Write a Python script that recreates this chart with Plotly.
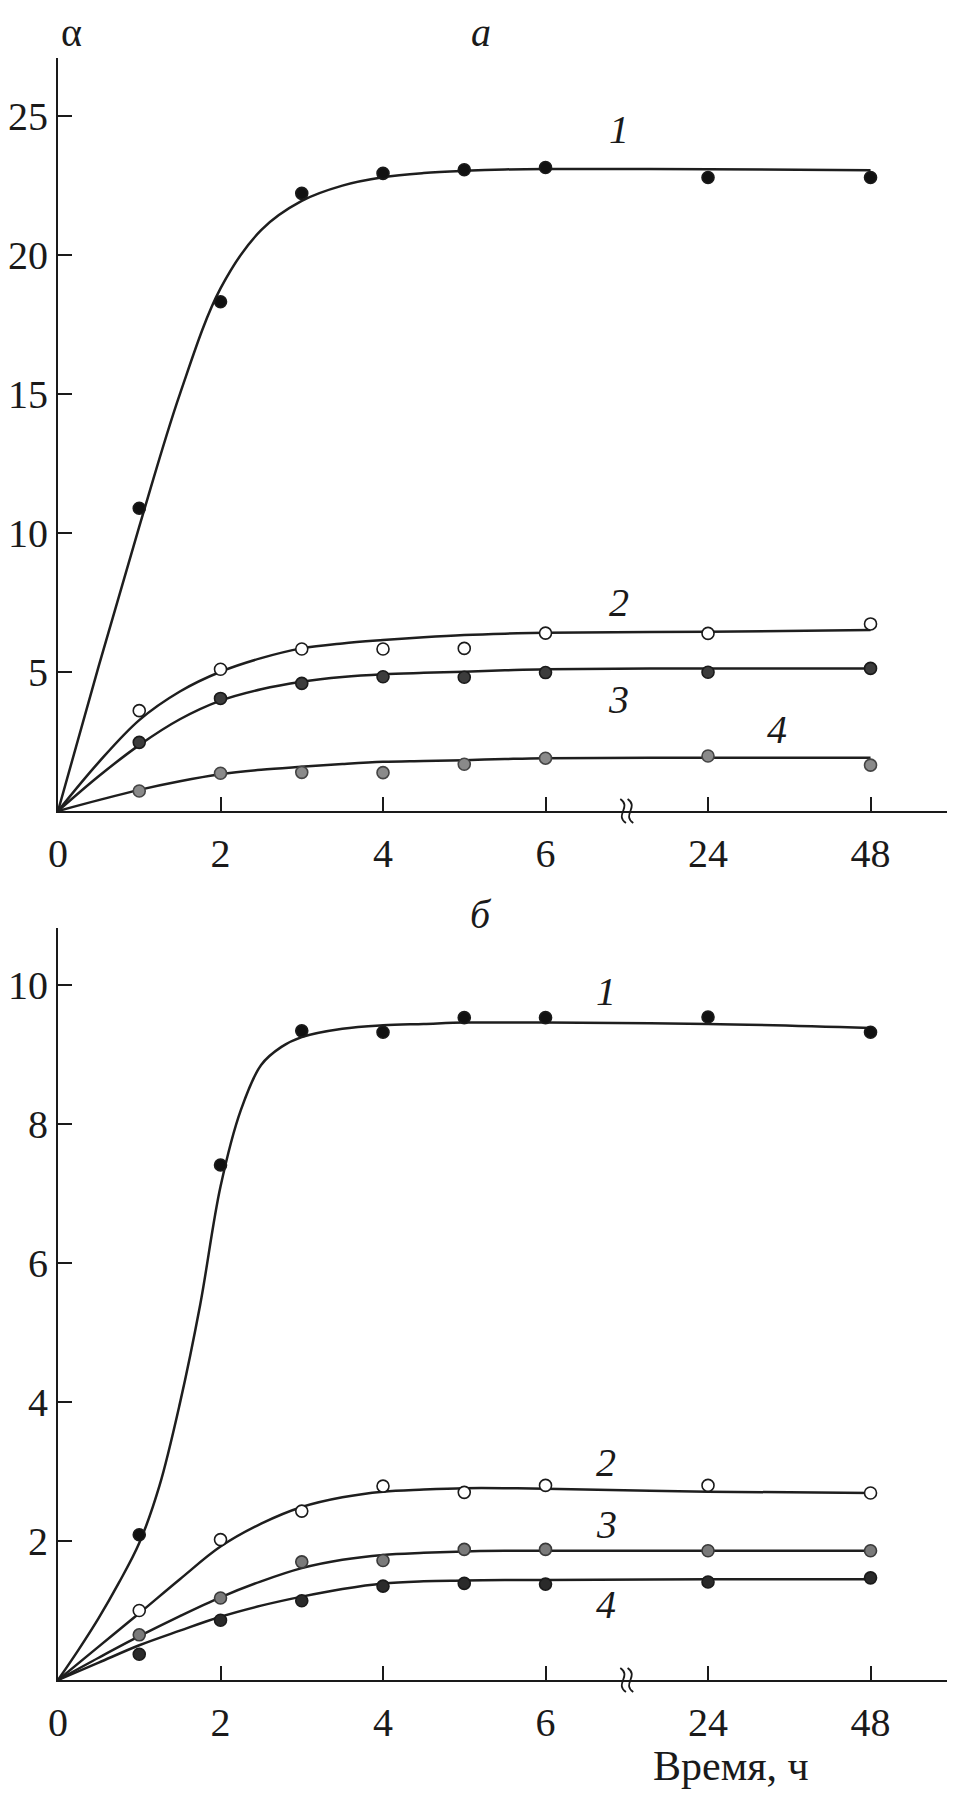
import plotly.graph_objects as go

# ---------------- data ----------------
tick_hours = [0, 2, 4, 6, 24, 48]
point_hours = [1, 2, 3, 4, 5, 6, 24, 48]
# top panel (a) measured points
a1 = [10.89, 18.32, 22.22, 22.94, 23.07, 23.15, 22.79, 22.79]
a2 = [3.61, 5.10, 5.83, 5.83, 5.85, 6.40, 6.39, 6.73]
a3 = [2.47, 4.05, 4.59, 4.83, 4.81, 4.98, 4.99, 5.13]
a4 = [0.72, 1.36, 1.39, 1.38, 1.68, 1.90, 1.98, 1.65]
# bottom panel (б) measured points
b1 = [2.09, 7.41, 9.34, 9.32, 9.53, 9.53, 9.54, 9.32]
b2 = [1.00, 2.02, 2.43, 2.79, 2.70, 2.80, 2.80, 2.69]
b3 = [0.65, 1.18, 1.70, 1.72, 1.88, 1.88, 1.86, 1.86]
b4 = [0.37, 0.86, 1.14, 1.35, 1.39, 1.38, 1.41, 1.47]

# fitted curves
curve_h = [0, 0.5, 1, 1.5, 2, 2.5, 3, 3.5, 4, 4.5, 5, 5.5, 6, 24, 48]
ca1 = [0, 5.2, 10.23, 15.0, 18.8, 20.9, 21.95, 22.5, 22.8, 22.95, 23.03, 23.08, 23.1, 23.09, 23.05]
ca2 = [0, 1.75, 3.27, 4.3, 5.01, 5.5, 5.85, 6.03, 6.15, 6.25, 6.33, 6.38, 6.41, 6.45, 6.51]
ca3 = [0, 1.25, 2.37, 3.3, 3.97, 4.38, 4.65, 4.82, 4.92, 4.97, 5.01, 5.06, 5.10, 5.13, 5.13]
ca4 = [0, 0.39, 0.76, 1.07, 1.32, 1.48, 1.59, 1.69, 1.77, 1.80, 1.83, 1.87, 1.90, 1.92, 1.92]
cb1_h = [0, 0.25, 0.5, 0.75, 1, 1.25, 1.5, 1.75, 2, 2.25, 2.5, 2.75, 3, 3.5, 4, 4.5, 5, 5.5, 6, 24, 48]
cb1 = [0, 0.43, 0.89, 1.4, 1.97, 2.8, 3.98, 5.4, 7.1, 8.2, 8.85, 9.11, 9.25, 9.37, 9.42, 9.44, 9.46, 9.46, 9.46, 9.44, 9.38]
cb2 = [0, 0.48, 0.96, 1.45, 1.92, 2.25, 2.49, 2.63, 2.71, 2.74, 2.76, 2.76, 2.75, 2.71, 2.69]
cb3 = [0, 0.32, 0.63, 0.92, 1.19, 1.42, 1.61, 1.73, 1.80, 1.83, 1.85, 1.86, 1.86, 1.86, 1.86]
cb4 = [0, 0.25, 0.50, 0.71, 0.91, 1.07, 1.20, 1.31, 1.39, 1.42, 1.43, 1.44, 1.44, 1.45, 1.45]

# broken axis: 24 h and 48 h placed after 6 h at equal tick spacing
BREAK_POS = {24: 8, 48: 10}
def pos(hs):
    return [BREAK_POS.get(h, h) for h in hs]

FONT = "Liberation Serif, Times New Roman, serif"
# page body has an 8px margin; the figure fills the rest of the 955x1795 window
OFF = 8
W, H = 955 - OFF, 1795 - OFF
def px(x):
    return (x - OFF) / W
def py(y):
    return 1 - (y - OFF) / H

LINE = "#1e1e1e"
fig = go.Figure()

def add_curve(hs, ys, xa, ya):
    fig.add_trace(go.Scatter(x=pos(hs), y=ys, mode="lines", xaxis=xa, yaxis=ya,
                             line=dict(color=LINE, width=2.5, shape="spline", smoothing=1.0),
                             hoverinfo="skip", showlegend=False))

def add_pts(ys, fill, xa, ya, edge="#1a1a1a"):
    fig.add_trace(go.Scatter(x=pos(point_hours), y=ys, mode="markers", xaxis=xa, yaxis=ya,
                             marker=dict(size=12, color=fill, line=dict(color=edge, width=1.6)),
                             showlegend=False))

# top panel
add_curve(curve_h, ca1, "x", "y")
add_curve(curve_h, ca2, "x", "y")
add_curve(curve_h, ca3, "x", "y")
add_curve(curve_h, ca4, "x", "y")
add_pts(a1, "#111111", "x", "y")
add_pts(a2, "#ffffff", "x", "y")
add_pts(a3, "#3c3c3c", "x", "y")
add_pts(a4, "#8a8a8a", "x", "y", edge="#444444")
# bottom panel
add_curve(cb1_h, cb1, "x2", "y2")
add_curve(curve_h, cb2, "x2", "y2")
add_curve(curve_h, cb3, "x2", "y2")
add_curve(curve_h, cb4, "x2", "y2")
add_pts(b1, "#111111", "x2", "y2")
add_pts(b2, "#ffffff", "x2", "y2")
add_pts(b3, "#7a7a7a", "x2", "y2", edge="#3a3a3a")
add_pts(b4, "#2a2a2a", "x2", "y2")

x_dom = [px(58), px(953)]
top_dom = [py(811), py(58)]
bot_dom = [py(1680), py(928)]

axis_common = dict(showline=True, linecolor="#1a1a1a", linewidth=2, ticks="inside",
                   ticklen=14, tickwidth=2, tickcolor="#1a1a1a", showgrid=False,
                   zeroline=False, automargin=False,
                   tickfont=dict(family=FONT, size=40, color="#1a1a1a"))

xaxis_common = dict(axis_common, range=[0, 11.015], tickvals=pos(tick_hours),
                    ticktext=[str(t) for t in tick_hours], ticklabelstandoff=6)

fig.update_layout(
    width=W, height=H, margin=dict(l=0, r=0, t=0, b=0, autoexpand=False),
    paper_bgcolor="white", plot_bgcolor="white",
    xaxis=dict(xaxis_common, domain=x_dom, anchor="y"),
    yaxis=dict(axis_common, domain=top_dom, anchor="x", range=[0, 27.09],
               tickvals=[5, 10, 15, 20, 25]),
    xaxis2=dict(xaxis_common, domain=x_dom, anchor="y2"),
    yaxis2=dict(axis_common, domain=bot_dom, anchor="x2", range=[0, 10.82],
                tickvals=[2, 4, 6, 8, 10]),
)

# axis-break marks on both x axes
def brk(xref, cy):
    h = 24 / H
    shapes = []
    for dx in (-0.045, 0.045):
        cx = 7 + dx
        p = (f"M {cx+0.035},{cy-h/2} C {cx-0.11},{cy-h/6} {cx+0.11},{cy+h/6} {cx-0.035},{cy+h/2}")
        shapes.append(dict(type="path", path=p, xref=xref, yref="paper",
                           line=dict(color="#1a1a1a", width=1.8)))
    return shapes

fig.update_layout(shapes=brk("x", top_dom[0]) + brk("x2", bot_dom[0]))

def ann(text, x, y, xref, yref, size=40, italic=False, yanchor="middle"):
    t = f"<i>{text}</i>" if italic else text
    fig.add_annotation(text=t, x=x, y=y, xref=xref, yref=yref, showarrow=False,
                       font=dict(family=FONT, size=size, color="#1a1a1a"),
                       xanchor="center", yanchor=yanchor)

# axis titles and panel labels
ann("α", px(72), py(33), "paper", "paper", size=40)
ann("а", px(481), 1.0, "paper", "paper", size=40, italic=True, yanchor="top")
ann("б", px(481), py(914), "paper", "paper", size=40, italic=True)
ann("Время, ч", px(731), py(1766), "paper", "paper", size=42)

# curve numbers
ann("1", 6.9, 24.5, "x", "y", italic=True)
ann("2", 6.9, 7.5, "x", "y", italic=True)
ann("3", 6.9, 4.0, "x", "y", italic=True)
ann("4", 8.85, 2.95, "x", "y", italic=True)
ann("1", 6.75, 9.9, "x2", "y2", italic=True)
ann("2", 6.75, 3.13, "x2", "y2", italic=True)
ann("3", 6.75, 2.24, "x2", "y2", italic=True)
ann("4", 6.75, 1.08, "x2", "y2", italic=True)

fig.write_html("out.html")
